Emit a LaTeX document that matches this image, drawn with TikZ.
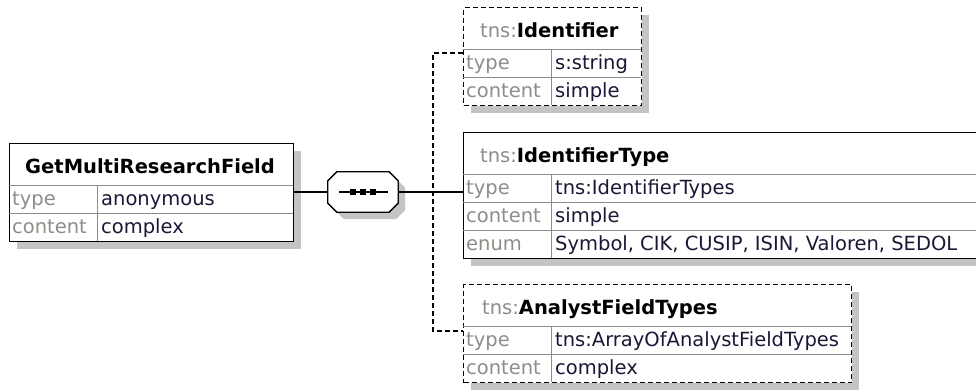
\documentclass[tikz,border=0pt]{standalone}
\usepackage{fontspec}
\setmainfont{DejaVu Sans}
\usetikzlibrary{positioning,calc,shadows}
\definecolor{RuleGray}{RGB}{140,140,140}
\definecolor{LabelGray}{RGB}{145,140,135}
\definecolor{ValueInk}{RGB}{25,25,55}
\definecolor{ShadowGray}{RGB}{196,196,196}
\newcommand{\nsname}[1]{\textcolor{LabelGray}{tns:}\textbf{#1}}

\begin{document}
\begin{tikzpicture}[x=1pt, y=-1pt,
  font=\fontsize{19.5}{23}\selectfont,
  shade box/.style={drop shadow={shadow xshift=7pt, shadow yshift=-7pt, fill=ShadowGray, opacity=1}},
  elem/.style={draw, line width=1.3pt, fill=white, inner sep=0pt, anchor=north west, shade box},
  optelem/.style={elem, dash pattern=on 5pt off 3pt},
  seqbox/.style={inner sep=0pt, minimum width=70pt, minimum height=40pt},
  rule/.style={RuleGray, line width=1pt},
  title/.style={anchor=base west, inner sep=0pt},
  label/.style={anchor=base west, inner sep=0pt, text=LabelGray},
  value/.style={anchor=base west, inner sep=0pt, text=ValueInk},
  wire/.style={line width=1.3pt},
  optwire/.style={wire, dash pattern=on 5pt off 3pt}
]
  \useasboundingbox (0,0) rectangle (976,389);

  % root element
  \node[elem, minimum width=284pt, minimum height=98pt] (root) at (9,143) {};
  \draw[rule] (9,185) -- (293,185) (9,213) -- (293,213) (97,185) -- (97,241);
  \node[title] (root-name) at (25,173) {\textbf{GetMultiResearchField}};
  \node[label] (root-type) at (12,205) {type};
  \node[value] (root-typev) at (101,205) {anonymous};
  \node[label] (root-cont) at (12,233) {content};
  \node[value] (root-contv) at (101,233) {complex};

  % sequence compositor
  \node[seqbox] (seq) at (363,192) {};
  \draw[wire, fill=white, shade box]
    ($(seq.north west)+(9,0)$) -- ($(seq.north east)+(-9,0)$) -- ($(seq.north east)+(0,9)$)
    -- ($(seq.south east)+(0,-9)$) -- ($(seq.south east)+(-9,0)$) -- ($(seq.south west)+(9,0)$)
    -- ($(seq.south west)+(0,-9)$) -- ($(seq.north west)+(0,9)$) -- cycle;
  \draw[wire] ($(seq.center)+(-24,0)$) -- ($(seq.center)+(25,0)$);
  \foreach \dx in {-10,0,10}
    \fill ($(seq.center)+(\dx-3,-3)$) rectangle ($(seq.center)+(\dx+3,3)$);

  % child elements
  \node[optelem, minimum width=178pt, minimum height=98pt] (ident) at (463,7) {};
  \draw[rule] (463,49) -- (641,49) (463,77) -- (641,77) (551,49) -- (551,105);
  \node[title] (ident-name) at (480,37) {\nsname{Identifier}};
  \node[label] (ident-type) at (466,69) {type};
  \node[value] (ident-typev) at (555,69) {s:string};
  \node[label] (ident-cont) at (466,97) {content};
  \node[value] (ident-contv) at (555,97) {simple};

  \node[elem, minimum width=540pt, minimum height=126pt] (idtype) at (463,132) {};
  \draw[rule] (463,174) -- (1003,174) (463,202) -- (1003,202) (463,230) -- (1003,230)
    (551,174) -- (551,258);
  \node[title] (idtype-name) at (480,162) {\nsname{IdentifierType}};
  \node[label] (idtype-type) at (466,194) {type};
  \node[value] (idtype-typev) at (555,194) {tns:IdentifierTypes};
  \node[label] (idtype-cont) at (466,222) {content};
  \node[value] (idtype-contv) at (555,222) {simple};
  \node[label] (idtype-enum) at (466,250) {enum};
  \node[value] (idtype-enumv) at (555,250) {Symbol, CIK, CUSIP, ISIN, Valoren, SEDOL};

  \node[optelem, minimum width=388pt, minimum height=98pt] (afield) at (463,284) {};
  \draw[rule] (463,326) -- (851,326) (463,354) -- (851,354) (551,326) -- (551,382);
  \node[title] (afield-name) at (482,314) {\nsname{AnalystFieldTypes}};
  \node[label] (afield-type) at (466,346) {type};
  \node[value] (afield-typev) at (555,346) {tns:ArrayOfAnalystFieldTypes};
  \node[label] (afield-cont) at (466,374) {content};
  \node[value] (afield-contv) at (555,374) {complex};

  % connectors
  \coordinate (fork) at (433,192);
  \coordinate (ident-in) at (463,53);
  \coordinate (afield-in) at (463,331);
  \draw[wire] (seq.west -| root.east) -- (seq.west);
  \draw[wire] (seq.east) -- (seq.east -| idtype.west);
  \draw[optwire] (ident-in) -| (fork) |- (afield-in);
\end{tikzpicture}
\end{document}
